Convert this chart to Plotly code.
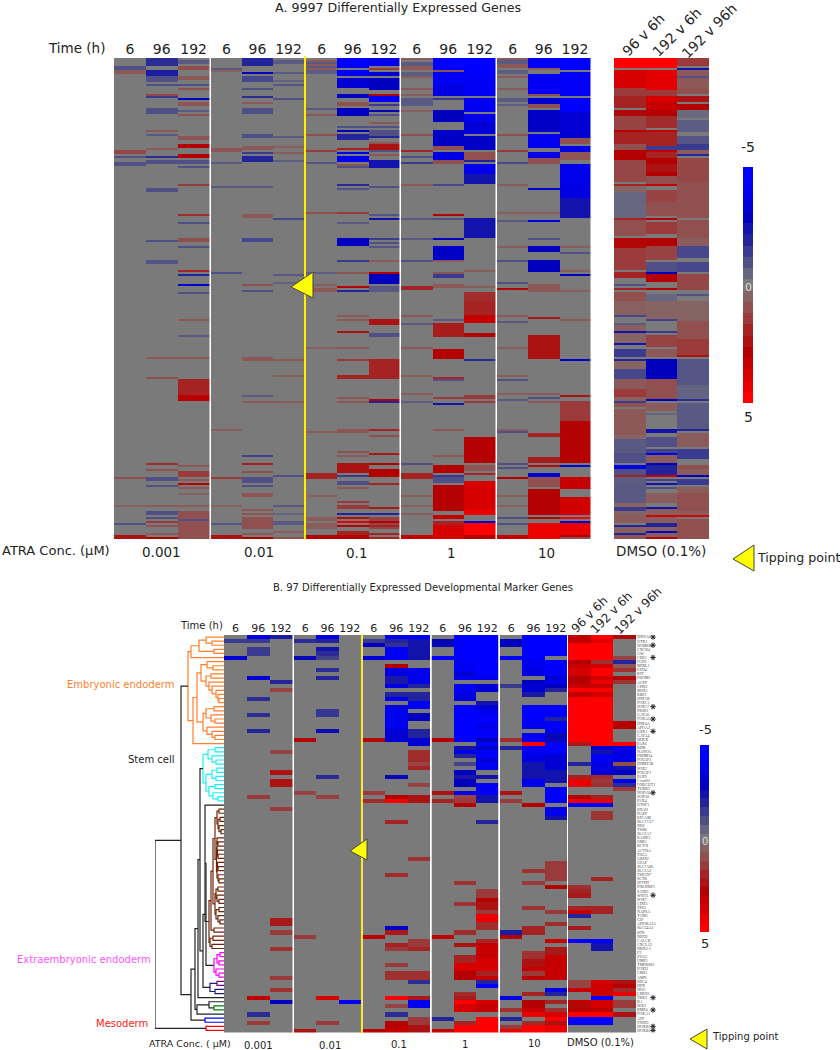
import plotly.graph_objects as go

W = 840
H = 1050

# colours follow the log fold change, -5 is blue and +5 is red
heat_scale = [
    [0.0, "rgb(0,0,255)"], [0.1, "rgb(0,0,235)"], [0.2, "rgb(0,0,190)"],
    [0.3, "rgb(35,35,155)"], [0.4, "rgb(80,80,135)"], [0.45, "rgb(102,102,128)"], [0.5, "rgb(122,122,122)"],
    [0.55, "rgb(135,100,100)"], [0.6, "rgb(145,80,80)"], [0.7, "rgb(165,35,35)"], [0.8, "rgb(180,0,0)"],
    [0.9, "rgb(215,0,0)"], [1.0, "rgb(255,0,0)"],
]
legend_levels = [-5, -4.5, -4, -3.5, -3, -2.5, -2, -1.5, -1, -0.5, 0, 0.5, 1, 1.5, 2, 2.5, 3, 3.5, 4, 4.5, 5]
time_labels = ["6", "96", "192"]
dmso_labels = ["96 v 6h", "192 v 6h", "192 v 96h"]

# Panel A, 240 binned gene rows. every band is (first row, last row, value), the rest is 0
a_rows = 240
a_001_6 = [(4, 5, -1), (6, 7, 0.8), (46, 47, 1.2), (49, 49, -1), (52, 53, -1), (209, 209, 1), (223, 223, 0.6), (232, 232, -1), (238, 239, 2.5)]
a_001_96 = [(0, 3, -1.8), (6, 8, -2.2), (9, 11, -1), (13, 13, -1), (18, 18, 1.2), (19, 19, -1.5), (25, 27, -1), (36, 36, 0.8), (38, 38, -0.8), (45, 45, 0.8), (49, 49, -1.8), (51, 52, -1), (65, 66, -1), (91, 91, -1), (101, 102, -0.9),
            (149, 149, 0.8), (159, 159, 1), (202, 202, 1.8), (205, 205, 1), (209, 210, -1), (213, 213, -1), (223, 223, 0.7), (226, 227, -1), (229, 229, -1), (231, 231, 1.5), (233, 233, 1), (237, 237, 0.8), (239, 239, 3)]
a_001_192 = [(1, 2, -0.8), (4, 5, 1), (9, 10, 0.8), (13, 13, -1), (15, 15, 1), (20, 20, -3), (22, 23, 0.9), (26, 26, -0.8), (28, 28, 1), (39, 40, 0.9), (43, 44, 3), (48, 49, 3), (51, 52, -1), (54, 54, -1), (63, 63, 1.5), (78, 78, 1.8), (82, 82, -1), (90, 91, 1), (94, 94, -1), (106, 106, 2), (108, 108, -2), (113, 113, -3.5), (117, 117, -1),
             (130, 130, 0.8), (138, 138, -0.8), (149, 149, 0.9), (160, 167, 2), (168, 170, 3.2), (203, 203, 0.9), (206, 208, 1.5), (210, 210, 0.8), (212, 212, 3), (214, 214, 0.8), (217, 217, 0.6), (223, 223, 0.7), (226, 229, 1), (230, 230, -1), (231, 239, 1)]
a_01_6 = [(5, 5, -0.8), (6, 6, 0.6), (45, 46, 0.9), (52, 52, -0.8), (64, 64, -0.8), (107, 107, -1), (185, 185, 0.7), (209, 209, 1.5), (223, 223, 0.6), (232, 232, -0.9), (238, 239, 2.5)]
a_01_96 = [(0, 3, -2), (7, 7, -3), (9, 11, -1.2), (15, 15, -1), (19, 19, -1.8), (22, 22, 0.8), (25, 27, -1), (38, 39, -1), (44, 45, 0.8), (47, 47, -1.5), (49, 51, -2), (64, 64, -0.8), (78, 79, 0.8), (90, 91, -1.2), (113, 113, 1), (116, 116, -1),
           (149, 150, 0.8), (168, 168, -0.8), (171, 171, 0.8), (198, 198, -1.3), (202, 202, 2.2), (206, 206, 1), (209, 211, -1), (213, 213, -1), (217, 217, 0.9), (218, 218, 0.9), (225, 225, 0.9), (227, 227, 0.9), (229, 234, 1), (237, 237, 0.9), (239, 239, 3)]
a_01_192 = [(1, 2, -0.8), (7, 7, -0.8), (11, 11, -0.6), (13, 13, -0.9), (20, 20, -1), (39, 39, -0.8), (44, 44, 0.7), (47, 47, 0.7), (51, 51, -0.7), (80, 80, -1.2), (108, 108, -0.8), (112, 112, -0.6),
            (150, 150, 0.8), (158, 158, 0.6), (171, 171, 0.7), (208, 208, -1), (223, 223, -0.8), (227, 227, -0.6), (231, 232, -0.8), (236, 236, 0.7), (239, 239, 1)]
a_1_6 = [(1, 1, 0.8), (2, 2, -0.8), (3, 3, 0.8), (4, 4, -0.8), (5, 5, 0.8), (6, 7, -0.7), (25, 25, -0.8), (28, 28, 0.8), (38, 38, 1), (46, 46, 1.5), (52, 52, -0.9), (77, 77, 1), (107, 107, -0.7), (113, 113, 0.7), (115, 116, 0.8),
         (144, 144, 0.6), (186, 186, 0.7), (207, 209, 2), (218, 218, 0.6), (229, 230, 0.7), (232, 234, 0.7), (238, 239, 3)]
a_1_96 = [(0, 4, -5), (6, 8, -4.5), (10, 14, -3.5), (18, 19, -3), (22, 23, 1), (25, 28, -3), (34, 34, -1), (36, 36, -3), (38, 40, -2), (45, 45, 2), (47, 47, -4), (49, 51, -4), (53, 53, 0.9), (54, 54, -1), (63, 63, -1.8), (65, 65, -1), (77, 77, 1.5), (82, 82, -0.8), (90, 93, -3), (101, 101, -1.5), (107, 107, 0.9), (114, 114, 3), (116, 116, -2),
          (128, 128, 0.8), (130, 130, 0.8), (136, 136, 2.5), (144, 144, 0.8), (150, 150, 1.5), (158, 159, 2), (169, 169, 0.9), (171, 171, 0.9), (185, 186, 0.9), (196, 196, 1), (198, 198, 0.8), (202, 206, 2.5), (208, 208, -1.5), (211, 212, -1), (214, 214, 0.9), (221, 221, 1.5), (223, 224, 1.5), (227, 227, -2), (229, 229, 2.5), (231, 231, 4.5), (233, 233, 3), (236, 237, 2), (238, 239, 3)]
a_1_192 = [(0, 3, -4), (5, 5, 1.5), (7, 8, -3.5), (10, 15, -3), (18, 18, 3), (19, 21, -4.5), (23, 23, -1.5), (26, 26, -3), (28, 28, -1), (32, 32, 0.8), (34, 34, -1), (36, 38, -1), (39, 39, -2), (42, 42, 0.9), (43, 45, 2.5), (46, 46, -1), (48, 48, 0.9), (51, 54, -2.5), (64, 64, -1), (78, 78, -0.9), (80, 80, -2.5), (90, 90, -1.5), (92, 92, -1), (94, 94, -0.9), (101, 101, 0.8), (107, 107, 3), (108, 112, -3), (114, 116, -0.8),
           (130, 132, 2.5), (137, 138, -1), (150, 159, 2), (170, 170, 3), (171, 171, -2), (185, 185, 2), (188, 188, 1), (197, 197, 2.3), (202, 202, 3), (205, 208, 3), (212, 212, 2), (224, 224, 2.3), (227, 227, -2), (229, 234, 1.3), (231, 231, 3), (233, 233, 2), (237, 237, 2), (239, 239, 2)]
a_10_6 = [(0, 0, 0.7), (2, 3, -0.8), (4, 5, 0.8), (7, 8, -0.7), (9, 9, 0.7), (15, 15, 0.8), (18, 18, 0.7), (20, 23, -0.8), (26, 26, 0.7), (38, 38, 1), (46, 46, 2), (49, 49, -1), (52, 52, -1.5), (63, 63, 0.8), (80, 80, -0.8), (90, 90, -0.8), (101, 101, -1), (114, 115, 2),
          (128, 128, 0.8), (132, 132, -0.8), (144, 144, 0.8), (158, 158, 0.7), (167, 167, 0.7), (171, 171, -0.7), (202, 202, -1), (207, 209, 2), (218, 218, 0.7), (223, 223, 0.6), (227, 227, 0.7), (238, 239, 3.5)]
a_10_96 = [(0, 5, -5), (6, 6, 1), (7, 12, -4.5), (13, 18, -3.8), (20, 20, -1.5), (26, 31, -3), (36, 43, -3.2), (44, 45, 1), (47, 50, -3.8), (51, 52, 1), (63, 63, -1.2), (78, 78, 3), (80, 80, -1), (90, 90, -3), (94, 100, -3.2), (101, 101, 0.8), (107, 107, 0.9), (108, 109, -1.5), (113, 114, 0.8),
           (130, 130, -0.8), (132, 138, 2.2), (145, 149, 3), (159, 159, 2), (160, 160, -1), (169, 169, 1.5), (172, 172, -2.5), (185, 185, 0.9), (198, 198, 0.8), (203, 206, 3), (208, 208, -1.5), (209, 211, -1), (213, 225, 3), (228, 229, 3.5), (231, 232, 2), (233, 236, 4), (237, 239, 4)]
a_10_192 = [(0, 6, -5), (7, 8, -4.8), (9, 18, -4.5), (20, 26, -4.3), (28, 31, -4), (32, 36, -3.5), (37, 37, -4), (39, 45, -3.2), (47, 50, 1), (51, 51, -2), (53, 57, -4), (58, 62, -2.5), (80, 89, -2.5), (106, 106, 0.7), (114, 114, 0.7), (117, 121, 1.8),
            (121, 127, 2), (128, 131, 3.5), (137, 138, 3), (150, 150, -1.8), (168, 169, 1.5), (171, 171, 1.5), (189, 201, 3), (203, 205, 0.9), (207, 207, 2), (211, 224, 4), (225, 227, 4.5), (231, 231, -3.5), (232, 237, 5), (238, 239, 3)]
a_100_6 = [(0, 0, 0.7), (1, 2, -0.8), (3, 4, 0.8), (6, 7, -0.7), (9, 9, 0.8), (15, 15, 0.7), (20, 21, -0.8), (23, 23, -0.7), (38, 38, 1), (46, 46, 1.5), (52, 52, -1.2), (63, 63, 0.7), (77, 77, 0.7), (81, 81, -0.8), (94, 94, 0.7), (101, 101, -1), (112, 112, -1), (115, 115, 3),
           (128, 128, 0.8), (131, 131, -0.8), (144, 144, 0.7), (158, 158, 0.7), (160, 160, -1), (167, 167, 0.7), (170, 170, -0.8), (185, 185, 0.7), (186, 186, -1), (202, 202, -1), (204, 204, -1), (209, 209, 3), (218, 218, 0.7), (223, 223, 0.6), (229, 229, -1), (232, 232, -1), (238, 239, 3.5)]
a_100_96 = [(0, 4, -4.5), (5, 5, 0.8), (8, 17, -4.5), (18, 18, 1), (20, 22, -3.5), (23, 24, 1), (26, 36, -3.2), (38, 44, -4.3), (47, 49, -4), (50, 52, 1), (65, 65, -3.5), (77, 77, 0.7), (81, 81, -4), (90, 90, -1), (94, 96, -3), (101, 106, -3), (113, 116, 0.8),
            (129, 129, 2.3), (138, 149, 2.5), (167, 167, 0.8), (169, 169, -1), (171, 171, 0.8), (187, 188, 2), (199, 201, 2.2), (203, 203, 2.5), (207, 208, -3.5), (209, 213, 1), (215, 227, 3), (229, 229, 3), (232, 239, 4.5)]
a_100_192 = [(0, 5, -5), (7, 18, -4.7), (20, 26, -5), (27, 39, -3.5), (40, 42, 1), (44, 46, -4), (47, 50, 0.9), (53, 62, -4), (63, 69, -3.8), (70, 79, -2.5), (94, 94, 0.7), (97, 97, -1), (106, 106, 0.7), (108, 108, -3), (116, 116, 0.7),
             (130, 130, 0.8), (150, 150, -3.5), (168, 168, 2.5), (171, 180, 1.5), (181, 187, 3), (188, 196, 3), (197, 201, 3), (203, 203, -3.5), (209, 214, 3.5), (219, 227, 3.8), (229, 229, 5), (231, 231, -3.5), (232, 237, 4.5), (238, 238, 3), (239, 239, 1)]
a_dmso_96 = [(0, 4, 5), (6, 14, 4), (15, 18, 1.5), (19, 24, 2), (26, 28, 2.8), (29, 35, 1.3), (36, 36, 3), (37, 42, 2), (43, 45, 1), (46, 50, 3), (51, 61, 1.2), (63, 63, 2), (64, 66, 0.5), (67, 79, -0.5), (80, 80, 2), (81, 88, 1), (90, 94, 2.8), (95, 105, 1.5), (107, 109, 2), (113, 113, -1), (115, 115, 2), (117, 120, 1),
             (121, 127, 0.6), (128, 128, -1.2), (132, 132, -0.8), (133, 135, 0.6), (136, 136, -2.5), (137, 141, 0.5), (142, 142, -2.5), (145, 148, -1.5), (150, 150, -2), (151, 154, 0.5), (155, 159, -1.2), (160, 164, 0.8), (165, 168, 1.5), (169, 170, 0.6), (171, 171, -1.5), (172, 173, 1), (175, 187, 0.8), (188, 189, 0.5), (190, 196, -0.8), (197, 201, -1), (203, 204, -4), (205, 207, -1), (208, 208, 2), (209, 211, -0.7), (212, 221, -0.8), (222, 223, 0.5), (224, 225, -1.5), (226, 227, 0.5), (228, 231, 0.7), (233, 233, -2), (234, 236, 0.6), (237, 237, -2), (238, 239, 0.9)]
a_dmso_192 = [(0, 4, 5), (6, 15, 4.3), (16, 18, 1.5), (19, 21, 4), (22, 25, 3.5), (26, 28, 3), (29, 34, 1.8), (36, 36, 3.5), (37, 43, 2), (44, 45, -1.5), (46, 46, 3.5), (47, 49, 2), (50, 52, 3), (53, 56, 2.5), (57, 58, 3), (59, 62, 1), (63, 63, 3.5), (66, 71, 1.3), (72, 78, 1), (80, 80, 3), (82, 87, 1.5), (90, 93, 3), (94, 100, 1.3), (102, 106, -1), (107, 107, -3), (108, 111, 3), (115, 115, 3), (118, 121, -0.5),
              (121, 129, 0.5), (130, 130, -1.3), (136, 136, -1.5), (138, 143, 1.3), (145, 148, 0.8), (150, 154, -3), (155, 159, -3), (160, 169, 1), (170, 170, -3), (172, 175, 0.7), (177, 177, -0.5), (185, 186, -2.5), (189, 193, -1), (195, 196, -1.3), (197, 197, -3.8), (198, 201, 0.7), (202, 202, -3), (203, 207, -2), (208, 208, 3.5), (210, 210, -1.3), (212, 212, -2.5), (214, 214, -1), (217, 221, 0.7), (224, 224, -2.5), (225, 227, 0.6), (228, 228, 4), (229, 231, 0.6), (232, 233, -2), (234, 235, 0.6), (236, 236, -3.5), (237, 238, 0.7), (239, 239, 3)]
a_dmso_192v96 = [(0, 3, 1.5), (5, 5, -2.5), (6, 8, 0.8), (9, 9, -1), (10, 14, 0.8), (15, 17, 1), (19, 21, 2.5), (23, 25, 3), (26, 29, -0.4), (31, 36, -0.7), (39, 42, -0.9), (43, 45, -1.5), (46, 47, 0.7), (48, 48, -2), (50, 61, 1.2), (62, 79, 1), (81, 89, 1), (90, 93, 0.7), (94, 99, -1.2), (102, 106, -1.2), (108, 115, 1.2), (118, 118, -1),
                 (121, 130, 0.5), (131, 139, 1), (140, 147, 1.5), (148, 148, 2.5), (150, 162, -0.9), (163, 169, -0.6), (170, 170, -1.8), (172, 184, -0.8), (185, 185, -2), (187, 193, 0.7), (195, 199, -1.5), (203, 204, 1), (205, 207, 0.7), (208, 208, -3), (210, 212, -1.5), (214, 216, 0.7), (217, 225, 1), (226, 227, 0.7), (228, 228, 4), (230, 239, 1)]

# Panel B, one row per gene. bands as in panel A
b_rows = 97
b_001_6 = [(1, 1, -1.5), (5, 5, -3.5)]
b_001_96 = [(0, 0, -3.8), (1, 1, -1.5), (3, 4, -1.5), (10, 10, -3.5), (15, 15, -1.8), (19, 19, -1.8), (23, 23, -2), (39, 39, 1.5), (88, 88, 3.3), (92, 92, -1.8), (94, 94, 1.5)]
b_001_192 = [(0, 0, -2.2), (11, 11, -2), (13, 13, 1.3), (28, 28, 1.3), (33, 33, 2.5), (35, 36, 2.5), (42, 42, 1.5), (69, 70, 2.3), (72, 72, 1.5), (76, 76, 1.7), (83, 83, 1.5), (86, 86, 1.7), (89, 89, -3)]
b_01_6 = [(1, 1, -1.8), (5, 5, -2.8), (25, 25, 2.8), (38, 38, 1.3), (73, 73, 1.5), (96, 96, 2.5)]
b_01_96 = [(0, 0, -3.8), (1, 1, -2), (3, 3, -2.5), (4, 4, -1.8), (5, 5, -1.3), (8, 8, -1.8), (10, 10, -2), (18, 19, -1.6), (23, 23, -2.6), (39, 39, 1.4), (34, 34, -1.8), (88, 88, 4), (94, 94, 1.5)]
b_01_192 = [(89, 89, -4.5)]
b_1_6 = [(1, 1, -1.5), (2, 2, -3), (5, 5, -3.5), (25, 25, 2.8), (38, 38, 1.5), (40, 40, 1.8), (73, 73, 3.2), (96, 96, 3)]
b_1_96 = [(0, 0, -4.3), (1, 1, -2), (2, 2, -1.7), (3, 5, -4.5), (7, 7, 3), (8, 9, -3.8), (10, 11, -2.3), (12, 12, -3.8), (14, 14, -2), (15, 15, -4), (17, 17, -3.8), (18, 22, -4.3), (23, 25, -3.5), (34, 34, -2.8), (39, 39, 3), (40, 40, 4.8), (45, 45, 2), (58, 58, 1.8), (71, 71, -3.2), (72, 72, 2.3), (75, 75, 2), (76, 76, 1.5), (80, 80, 1.5), (82, 83, 1.7), (88, 88, 5), (90, 90, 1.3), (92, 92, -1.8), (94, 94, 3), (95, 95, 3.2), (96, 96, 3.5)]
b_1_192 = [(0, 0, -4.5), (1, 5, -2.5), (8, 9, -4), (10, 11, -4), (12, 12, -2), (14, 15, -2), (16, 17, -5), (19, 20, -3), (23, 24, -2), (25, 26, -3.5), (28, 30, 1.8), (31, 31, 1.3), (32, 32, 2), (36, 36, 1.3), (39, 40, 2.5), (54, 54, 1.7), (74, 75, 1.5), (76, 76, 2), (82, 83, 1.7), (84, 84, -1.8), (88, 88, 2.3), (89, 90, -4.3), (93, 94, 1.5), (95, 96, 2.5)]
b_10_6 = [(1, 2, -2.8), (5, 5, -5), (25, 25, 3), (38, 38, 2.5), (40, 40, 2), (73, 73, 3.3), (93, 93, -2), (96, 96, 3.5)]
b_10_96 = [(0, 5, -5), (6, 8, -4.5), (9, 9, -3.5), (10, 10, -4.5), (12, 13, -4.5), (14, 15, -3.8), (17, 24, -5), (25, 25, -4.5), (27, 27, -2.5), (28, 28, -3.8), (29, 29, -2), (31, 31, -1.3), (33, 33, -3), (34, 34, -2.3), (35, 36, -3), (38, 38, -4.5), (39, 39, 1.3), (40, 40, 1.5), (41, 41, 3), (60, 60, 1.7), (65, 65, 1.7), (72, 72, 1.8), (75, 75, 2.5), (78, 79, 2), (80, 81, 4), (82, 83, 3), (87, 87, 1.8), (88, 88, 2.3), (89, 89, 5), (90, 91, 4), (94, 94, 2), (95, 96, 5)]
b_10_192 = [(0, 9, -5), (10, 10, -4), (12, 13, -3.5), (16, 16, -2.5), (17, 17, -3.5), (18, 18, -4), (19, 19, -4.5), (20, 21, -4.8), (22, 22, -3.8), (23, 24, -4.8), (25, 25, -3), (26, 26, -5), (27, 27, -3.3), (28, 29, -4.8), (30, 30, -3.5), (31, 32, -4.3), (34, 34, -2.5), (36, 38, -4.5), (39, 40, -2.5), (45, 45, -2), (62, 63, 1.5), (64, 64, 3), (65, 66, 2.5), (67, 67, 1.5), (68, 69, 4.5), (70, 71, 1.8), (74, 74, 2), (75, 78, 3.5), (79, 81, 4), (82, 82, 2), (83, 83, 3.5), (84, 84, -2), (85, 85, -4.8), (89, 89, 4), (90, 91, 3.5), (93, 94, 5), (95, 96, 5)]
b_100_6 = [(1, 2, -3), (5, 5, -4.8), (12, 12, -1.5), (25, 25, 1.8), (27, 27, -2), (38, 38, 2.5), (40, 40, 1.5), (72, 72, -2.2), (73, 73, 3), (88, 88, -4), (91, 91, 1.7), (93, 93, -2), (95, 95, 1.5), (96, 96, 4.5)]
b_100_96 = [(0, 5, -5), (6, 7, -4.3), (8, 9, -3.8), (11, 11, -3), (12, 13, -3.5), (14, 14, -2.3), (17, 20, -5), (21, 22, -4.2), (24, 25, -4.5), (26, 26, 5), (27, 29, -4.3), (30, 30, -3.7), (31, 33, -2.5), (34, 34, -2.5), (35, 36, -4), (41, 41, 3), (57, 57, 1.7), (60, 60, 1.5), (66, 66, 1.7), (71, 72, 2), (77, 78, 1.7), (79, 80, 2.5), (81, 81, 3.5), (82, 82, 1.5), (83, 83, 3.3), (87, 87, 2), (89, 90, 3), (91, 91, 3.5), (92, 92, 4.5), (94, 94, 1.8), (95, 96, 5)]
b_100_192 = [(0, 4, -5), (6, 7, -4.8), (8, 9, -4.7), (10, 10, -3.5), (11, 11, -4), (12, 12, -3), (13, 13, -2), (17, 19, -5), (20, 20, -2), (21, 22, -5), (23, 23, -4.3), (24, 25, -2.8), (26, 28, -5), (29, 32, -3.5), (33, 35, -2.5), (37, 40, -5), (42, 43, -4), (44, 44, -2.5), (55, 59, 1.5), (61, 61, 3), (67, 67, 1.5), (70, 70, 1.8), (74, 74, 3.5), (76, 77, 2.3), (78, 81, 3.5), (82, 83, 3.5), (86, 86, -3.8), (87, 87, -2), (89, 89, 2), (91, 91, 1.7), (92, 92, 4), (93, 93, 5), (94, 94, 2.5), (95, 96, 4.5)]
b_dmso_96 = [(0, 1, 3.3), (2, 5, 5), (6, 6, 3), (7, 7, 3.5), (8, 9, 4), (10, 11, 3), (12, 12, 3.5), (13, 13, 5), (14, 14, 3.3), (15, 25, 5), (26, 26, 2.3), (31, 31, -2), (34, 34, 2), (35, 36, 4.5), (39, 39, 2.8), (40, 40, 4.5), (41, 41, -5), (61, 61, 1.7), (62, 62, 2), (63, 63, 2.3), (66, 66, 2), (67, 67, 3.5), (68, 68, -2), (71, 71, 2.3), (74, 74, -5), (84, 85, 1.3), (86, 86, 3.5), (89, 89, 3.3), (90, 90, 2.8), (91, 91, 3), (92, 92, 5), (93, 94, -5)]
b_dmso_192 = [(0, 0, 5), (1, 1, 4.3), (2, 5, 5), (6, 6, 1.7), (7, 7, 4), (8, 9, 5), (10, 10, 4), (11, 11, 4.5), (12, 12, 3.5), (13, 13, 5), (14, 14, 4), (15, 26, 5), (27, 27, -3.5), (28, 28, -2.5), (29, 30, -4.5), (31, 32, -3.8), (33, 33, -3.5), (34, 34, 1.8), (35, 35, 1.5), (36, 36, 1.7), (39, 39, 2), (40, 40, 4.5), (41, 41, -5), (43, 44, 1.6), (59, 59, 2), (66, 67, 2), (74, 74, -5), (75, 76, -2.5), (84, 84, 4), (85, 87, 3.7), (88, 88, -5), (89, 90, 4), (91, 91, 3.3), (92, 92, 5), (93, 94, -5)]
b_dmso_192v96 = [(0, 0, 2.8), (5, 5, 1.3), (6, 6, -2), (7, 7, 0.8), (8, 8, 1.7), (10, 10, 2.8), (11, 11, 1.6), (21, 22, 3), (26, 26, 5), (27, 30, -3.8), (31, 31, 1), (32, 32, -2.5), (33, 33, -3.2), (35, 35, -4), (36, 36, -1.8), (37, 37, 1.5), (84, 84, 2.5), (85, 85, 3), (86, 86, 1.8), (87, 87, 4.5), (89, 90, 1.5), (92, 92, 2.5)]

gene_names = ["SHISA2", "OTX2", "HOMER2", "CXCR4", "GSC", "CER1", "FGF8", "MIXL1", "FZD4", "KIT", "PROM2", "ACPP", "CDH2", "MSX1", "RBP2", "HNF1B", "FOXC1", "SOX17", "PRSS1", "GATA6", "FOXA2", "HNF4A", "APOA2", "LHX1", "GATA4", "HHEX", "PAX6",
              "KDR", "NANOG", "PRDM14", "POU5F1", "DNMT3B", "SOX2", "POU3F1", "PAX9", "C1orf61", "ONECUT1", "TUBB3", "NODAL", "SOX18", "PAX4", "UTRF1", "SNAI1", "DAPP", "EPCAM", "SLC17A7", "NES", "TSSR", "SLC2A7", "RASIP1", "OMG", "BCYN", "ACTNA", "TH3A", "GRIN2", "GFAP", "SLC7A8L", "SLC1A3", "TSPAN7", "SCTR", "SFTPD", "PNLIPRP1", "SATB1", "WNT3", "SOX7", "CDH5", "TP63", "NAPSA", "TGM1", "GIF", "ADORA2A", "SLC34A2", "SPN", "NEFH", "CALCB", "CXCL12", "NKX2-1", "F2", "SYAG", "UMP1", "TMPRSS2", "FOXI1", "CRB3", "AMN", "SDC4", "HPX", "NOG", "LRRN1", "TBX3", "IL1", "IRX3", "BMP4", "FOXA1", "AFP", "TNNI3", "HOXB3", "HOXB1"]
star_rows = [0, 2, 5, 17, 20, 23, 38, 63, 88, 91, 95, 96]

# tree as (distance, child, child, optional colour). plain ints are gene rows
orange_top = (33, (25, (18, 0, (12, 1, 2)), (10, 3, 4)), 5)
orange_c = (23, (17, 6, (11, 7, 8)), (18, (13, 9, 10), (15, 11, (12, 12, (8, 13, (6, 14, (5, 15, 16)))))))
orange_d = (21, (18, (10, 17, 18), (13, 19, (9, 20, 21))), (17, 22, (12, 23, (9, 24, 25))))
orange = (36, orange_top, (31, (27, orange_c, orange_d), 26), "#ff7f2a")
cyan = (21, (16, (9, 27, 28), (12, 29, (8, 30, 31))), (18, (12, (7, 32, 33), (8, 34, 35)), (15, (9, 36, 37), (11, 38, (6, 39, 40)))), "#19f0f5")
br_top = (7, (5, 42, 43), (6, (4, 44, 45), (5, 46, (3, 47, 48))))
br_mid = (7.5, (7, (7, 49, (6, 50, 51)), (6.5, 52, (6, 53, 54))), (7, (6.5, 55, (6, 56, 57)), (6, 58, (5, 59, 60))))
br_low = (9, (8, (6, 61, 62), (7, 63, (5, 64, 65))), (8, (5, 66, 67), (6, 68, (4, 69, 70))))
brown_in = (11, (9, br_top, br_mid), br_low)
brown = (19, 41, (15, (13, brown_in, (10, 71, 72)), (14, (11, 73, 74), (12, 75, 76)), "#6e2408"))
magenta = (10, (7, (4, 77, 78), (5, 79, 80)), (8, 81, (5, 82, 83)), "#ff00ff")
purple_navy = (14, (7, 84, 85, "#800080"), (9, 86, 87), "#1a1a80")
middle = (21, (18, brown, magenta), purple_navy)
upper = (26, (24, cyan, middle), 88)
lower = (27, (15, 89, (10, 90, 91, "#008000")), 92)
rest = (43, orange, (33, (29, upper, lower), (19, 93, 94, "#0000ff")))
root = (69, rest, (18, 95, 96, "#ff0000"))


def expand(bands, n):
    col = [0.0] * n
    for first, last, value in bands:
        for r in range(first, last + 1):
            col[r] = value
    return col


def to_rows(cols, n):
    expanded = [expand(c, n) for c in cols]
    return [[c[r] for c in expanded] for r in range(n)]


def px_x(left, right):
    return [left / W, right / W]


def px_y(top, bottom):
    return [1 - bottom / H, 1 - top / H]


def walk(node, color, segs):
    # returns the y and distance of this node, and adds its links to segs
    if isinstance(node, int):
        return node, 0
    color = node[3] if len(node) > 3 else color
    ya, da = walk(node[1], color, segs)
    yb, db = walk(node[2], color, segs)
    xs, ys = segs.setdefault(color, ([], []))
    xs += [da, node[0], node[0], db, None]
    ys += [ya, ya, yb, yb, None]
    return (ya + yb) / 2, node[0]


fig = go.Figure()
layout = {}
axis_no = [2]
tick_font = dict(family="DejaVu Sans", color="#222")


def next_axes():
    n = axis_no[0]
    axis_no[0] += 1
    return n


def add_block(cols, n_rows, x_px, y_name, labels, size):
    n = next_axes()
    fig.add_trace(go.Heatmap(z=to_rows(cols, n_rows), x=[0, 1, 2], y=list(range(n_rows)),
                             coloraxis="coloraxis", xaxis="x%d" % n, yaxis=y_name, hoverinfo="skip"))
    layout["xaxis%d" % n] = dict(domain=px_x(*x_px), anchor=y_name, side="top", range=[-0.5, 2.5],
                                 tickmode="array", tickvals=[0, 1, 2], ticktext=labels, ticks="",
                                 showticklabels=labels is not None, tickangle=0, showgrid=False,
                                 zeroline=False, showline=False, automargin=False,
                                 tickfont=dict(size=size, **tick_font))
    return "x%d" % n


def plain_y(n_rows, y_px, **extra):
    return dict(domain=px_y(*y_px), range=[n_rows - 0.5, -0.5], showgrid=False, zeroline=False,
                showticklabels=False, ticks="", showline=False, automargin=False, **extra)


def add_legend(x_px, y_px):
    n = next_axes()
    fig.add_trace(go.Heatmap(z=[[v] for v in legend_levels], x=[0], y=list(range(len(legend_levels))),
                             coloraxis="coloraxis", xaxis="x%d" % n, yaxis="y%d" % n, hoverinfo="skip"))
    layout["xaxis%d" % n] = dict(domain=px_x(*x_px), anchor="y%d" % n, visible=False, automargin=False)
    layout["yaxis%d" % n] = dict(domain=px_y(*y_px), anchor="x%d" % n, visible=False, autorange="reversed", automargin=False)


# panel A
y_a = (58, 539)
a_blocks = [
    ([a_001_6, a_001_96, a_001_192], (114, 209.5)),
    ([a_01_6, a_01_96, a_01_192], (211, 304)),
    ([a_1_6, a_1_96, a_1_192], (306, 399.5)),
    ([a_10_6, a_10_96, a_10_192], (401, 495.5)),
    ([a_100_6, a_100_96, a_100_192], (497, 590.5)),
]
for cols, x_px in a_blocks:
    add_block(cols, a_rows, x_px, "y", time_labels, 14)
add_block([a_dmso_96, a_dmso_192, a_dmso_192v96], a_rows, (614, 709), "y", None, 14)
layout["yaxis"] = plain_y(a_rows, y_a)
add_legend((743, 753), (167, 403))

# panel B
y_b = (635, 1032.5)
b_blocks = [
    ([b_001_6, b_001_96, b_001_192], (224, 292.5)),
    ([b_01_6, b_01_96, b_01_192], (294, 361)),
    ([b_1_6, b_1_96, b_1_192], (362.5, 430)),
    ([b_10_6, b_10_96, b_10_192], (431.5, 498.5)),
    ([b_100_6, b_100_96, b_100_192], (500, 567)),
]
y_b_name = "y%d" % 50
for cols, x_px in b_blocks:
    add_block(cols, b_rows, x_px, y_b_name, time_labels, 11)
layout["yaxis50"] = plain_y(b_rows, y_b)

dmso_x = add_block([b_dmso_96, b_dmso_192, b_dmso_192v96], b_rows, (568, 636), "y51", None, 13)
layout["yaxis51"] = dict(domain=px_y(*y_b), range=[b_rows - 0.5, -0.5], anchor=dmso_x, side="right",
                         showgrid=False, zeroline=False, showline=False, ticks="", tickmode="array",
                         tickvals=list(range(b_rows)), ticktext=gene_names, automargin=False,
                         tickfont=dict(family="Liberation Serif", size=4, color="#444"))
add_legend((700, 709), (745, 932))

# dendrogram shares the gene rows of panel B
segs = {}
walk(root, "#222222", segs)
for color, (xs, ys) in segs.items():
    fig.add_trace(go.Scatter(x=xs, y=ys, mode="lines", line=dict(color=color, width=1.2),
                             xaxis="x60", yaxis=y_b_name, hoverinfo="skip", showlegend=False))
layout["xaxis60"] = dict(domain=px_x(155, 224), range=[69, 0], anchor=y_b_name, visible=False, automargin=False)

# asterisks next to the gene names
fig.add_trace(go.Scatter(x=[1] * len(star_rows), y=star_rows, mode="markers",
                         marker=dict(symbol="asterisk-open", size=4.5, color="#222", line=dict(color="#222", width=1)),
                         xaxis="x61", yaxis=y_b_name, hoverinfo="skip", showlegend=False))
layout["xaxis61"] = dict(domain=px_x(649, 657), range=[0, 2], anchor=y_b_name, visible=False, automargin=False)


def note(x, y, text, size, color="#222", anchor="center", family="DejaVu Sans", angle=0):
    return dict(x=x / W, y=1 - y / H, xref="paper", yref="paper", text=text, showarrow=False, textangle=angle,
                xanchor=anchor, yanchor="middle", font=dict(family=family, size=size, color=color))


notes = [
    note(398, 7, "A. 9997 Differentially Expressed Genes", 12.6),
    note(46, 48, "Time (h)", 13.5, anchor="left"),
    note(0, 550, "ATRA Conc. (\u00b5M)", 13, anchor="left"),
    note(161, 552, "0.001", 13.5), note(259, 552, "0.01", 13.5), note(356, 553, "0.1", 13.5),
    note(451, 553, "1", 13.5), note(546, 553, "10", 13.5), note(661, 551, "DMSO (0.1%)", 13.5),
    note(755, 557, "Tipping point", 12.6, anchor="left"),
    note(748, 147, "-5", 14), note(748, 417, "5", 14), note(748, 288, "0", 11, color="#dddddd"),
    note(643, 35, dmso_labels[0], 14, angle=-45), note(677, 32, dmso_labels[1], 14, angle=-45), note(709, 31, dmso_labels[2], 14, angle=-45),
    note(423, 587, "B. 97 Differentially Expressed Developmental Marker Genes", 10),
    note(178, 625, "Time (h)", 10, anchor="left"),
    note(147, 1043, "ATRA Conc. ( \u00b5M)", 9.5, anchor="left"),
    note(258, 1045, "0.001", 10), note(330, 1045, "0.01", 10), note(399, 1044, "0.1", 10),
    note(465, 1044, "1", 10), note(534, 1043, "10", 10), note(600, 1042, "DMSO (0.1%)", 10),
    note(710, 1036, "Tipping point", 10, anchor="left"),
    note(705, 729, "-5", 13), note(705, 943, "5", 13), note(705, 841, "0", 10, color="#dddddd"),
    note(589, 615, dmso_labels[0], 12, angle=-45), note(611, 613, dmso_labels[1], 12, angle=-45), note(638, 611, dmso_labels[2], 12, angle=-45),
    note(176, 684, "Embryonic endoderm", 10, color="#ff7f2a", anchor="right"),
    note(177, 759, "Stem cell", 10, anchor="right"),
    note(153, 959, "Extraembryonic endoderm", 10, color="#ff55ff", anchor="right"),
    note(150, 1023, "Mesoderm", 10, color="#ff2020", anchor="right"),
]


def triangle(tip_x, tip_y, right_x, top_y, bottom_y):
    p = "M%f,%f L%f,%f L%f,%f Z" % (tip_x / W, 1 - tip_y / H, right_x / W, 1 - top_y / H, right_x / W, 1 - bottom_y / H)
    return dict(type="path", path=p, xref="paper", yref="paper", fillcolor="#ffff00", line=dict(color="#444", width=1))


shapes = [
    dict(type="line", xref="paper", yref="paper", x0=305 / W, x1=305 / W, y0=1 - 539 / H, y1=1 - 56 / H, line=dict(color="#ffee00", width=2)),
    dict(type="line", xref="paper", yref="paper", x0=361.7 / W, x1=361.7 / W, y0=1 - 1033 / H, y1=1 - 634 / H, line=dict(color="#ffee00", width=1.5)),
    triangle(291, 287, 313, 272, 298), triangle(733, 559, 754, 545, 571),
    triangle(350, 851, 367, 839, 860), triangle(690, 1039, 707, 1029, 1049),
]

fig.update_layout(width=W, height=H, margin=dict(l=0, r=0, t=0, b=0), autosize=False,
                  paper_bgcolor="white", plot_bgcolor="white", showlegend=False,
                  coloraxis=dict(colorscale=heat_scale, cmin=-5, cmax=5, showscale=False),
                  annotations=notes, shapes=shapes, **layout)

page_js = "document.body.style.margin='0';var s=document.createElement('style');s.textContent='.main-svg text{opacity:.99 !important}';document.head.appendChild(s);"
fig.write_html("out.html", config={"displayModeBar": False}, post_script=page_js)
